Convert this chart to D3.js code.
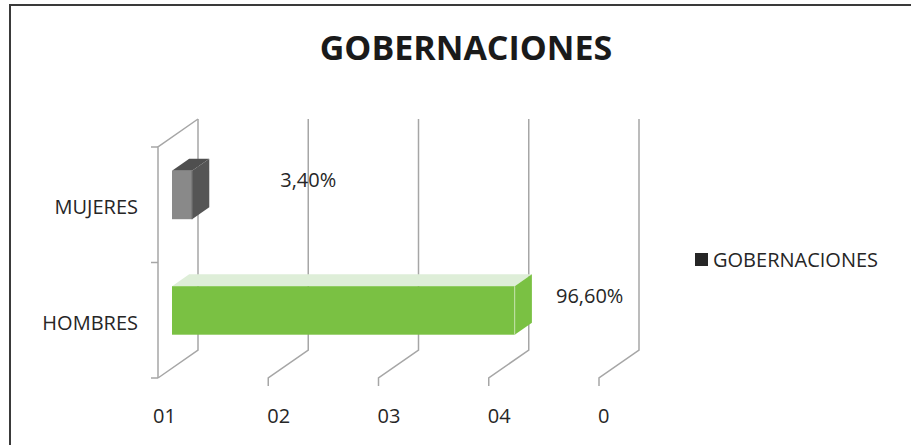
<!DOCTYPE html>
<html>
<head>
<meta charset="utf-8">
<script src="https://cdn.jsdelivr.net/npm/d3@7"></script>
<style>
  html, body { margin: 0; padding: 0; background: #fff; }
  svg { display: block; font-family: 'Open Sans', sans-serif; }
</style>
</head>
<body>
<div id="chart"></div>
<script>
const title = 'GOBERNACIONES'
const seriesName = 'GOBERNACIONES'
const categories = ['MUJERES', 'HOMBRES']
const values = [0.034, 0.966]
const valueLabels = ['3,40%', '96,60%']
const xTickLabels = ['01', '02', '03', '04', '0']

const width = 911
const height = 445
// front-left corner of the plot floor, and depth offset to the back wall
const plot = { left: 158, top: 147, bottom: 378, wallWidth: 441 }
const depth = { dx: 40, dy: -28 }
const barDepth = [0.35, 0.78]
const fontSize = 20

const svg = d3.select('#chart').append('svg').attr('width', width).attr('height', height)

// outer frame (only top and left edges are inside the picture)
svg.append('path')
  .attr('d', `M10,${height} L10,5 L${width},5`)
  .attr('fill', 'none')
  .attr('stroke', '#3a3a3a')
  .attr('stroke-width', 2)

const yScale = d3.scaleBand()
  .domain(categories)
  .range([plot.top, plot.bottom])
  .paddingInner(0.58)
  .paddingOuter(0.29)

const gridScale = d3.scalePoint()
  .domain(xTickLabels)
  .range([plot.left, plot.left + plot.wallWidth])

const xScale = d3.scaleLinear()
  .domain([-0.024, 1.25])
  .range([plot.left, plot.left + plot.wallWidth])

// project a front-plane point back into depth z (0 = front, 1 = back wall)
const proj = (x, y, z) => [x + z * depth.dx, y + z * depth.dy]
const line = d3.line()

const gridColor = '#a6a6a6'
const axes = svg.append('g').attr('fill', 'none').attr('stroke', gridColor).attr('stroke-width', 1.5)

// left wall
axes.append('path').attr('d', line([
  proj(plot.left, plot.bottom, 0), proj(plot.left, plot.top, 0), proj(plot.left, plot.top, 1)
]))
d3.range(categories.length + 1).forEach((i) => {
  const y = plot.top + i * yScale.step()
  axes.append('path').attr('d', line([[plot.left - 7, y], [plot.left, y]]))
})

// back wall gridlines + floor edges
xTickLabels.forEach((t, i) => {
  const gx = gridScale(t)
  axes.append('path').attr('d', line([
    proj(gx, plot.top, 1), proj(gx, plot.bottom, 1), proj(gx, plot.bottom, 0)
  ].concat(i === 0 ? [] : [[gx, plot.bottom + 8]])))
})

// tick labels
svg.append('g')
  .selectAll('text')
  .data(xTickLabels)
  .join('text')
  .attr('x', (d, i) => gridScale(d) + (i === 0 ? -5 : -1))
  .attr('y', 423)
  .attr('font-size', fontSize)
  .attr('fill', '#262626')
  .text((d) => d)

svg.append('g')
  .selectAll('text')
  .data(categories)
  .join('text')
  .attr('x', 138)
  .attr('y', (d) => yScale(d) + yScale.bandwidth() / 2 + 2)
  .attr('text-anchor', 'end')
  .attr('dominant-baseline', 'central')
  .attr('font-size', fontSize)
  .attr('fill', '#262626')
  .text((d) => d)

// 3d bars
const barColors = [
  { front: '#898989', top: '#4f4f4f', side: '#555555', edge: '#6a6a6a' },
  { front: '#7ac143', top: '#deeed8', side: '#7ac143', edge: '#c4e2ac' }
]
const bars = svg.append('g')
categories.forEach((c, i) => {
  const x0 = xScale(xScale.domain()[0])
  const x1 = xScale(values[i])
  const y0 = yScale(c)
  const y1 = y0 + yScale.bandwidth()
  const [z0, z1] = barDepth
  const col = barColors[i]
  const g = bars.append('g')
  g.append('path')
    .attr('d', line([proj(x0, y0, z0), proj(x1, y0, z0), proj(x1, y0, z1), proj(x0, y0, z1)]) + 'Z')
    .attr('fill', col.top)
  g.append('path')
    .attr('d', line([proj(x1, y0, z0), proj(x1, y0, z1), proj(x1, y1, z1), proj(x1, y1, z0)]) + 'Z')
    .attr('fill', col.side)
  const f0 = proj(x0, y0, z0)
  const f1 = proj(x1, y1, z0)
  g.append('rect')
    .attr('x', f0[0]).attr('y', f0[1])
    .attr('width', f1[0] - f0[0]).attr('height', f1[1] - f0[1])
    .attr('fill', col.front)
  g.append('path')
    .attr('d', line([proj(x1, y0, z0), proj(x1, y1, z0)]))
    .attr('stroke', col.edge).attr('stroke-width', 1)
})

// value labels: right of the bar end, but not left of the first inner gridline
svg.append('g')
  .selectAll('text')
  .data(categories)
  .join('text')
  .attr('x', (d, i) => Math.max(proj(xScale(values[i]), 0, barDepth[0])[0] + 75, gridScale(xTickLabels[1]) + depth.dx))
  .attr('y', (d) => yScale(d) + yScale.bandwidth() / 2 - 25)
  .attr('text-anchor', 'middle')
  .attr('dominant-baseline', 'central')
  .attr('font-size', fontSize)
  .attr('fill', '#262626')
  .text((d, i) => valueLabels[i])

// title
svg.append('text')
  .attr('x', 466)
  .attr('y', 47)
  .attr('text-anchor', 'middle')
  .attr('dominant-baseline', 'central')
  .attr('font-size', 34)
  .attr('font-weight', 'bold')
  .attr('fill', '#1a1a1a')
  .text(title)

// legend
const legend = svg.append('g').attr('transform', 'translate(695,253)')
legend.append('rect').attr('width', 13).attr('height', 13).attr('fill', '#262626')
legend.append('text')
  .attr('x', 18)
  .attr('y', 6.5)
  .attr('dominant-baseline', 'central')
  .attr('font-size', fontSize)
  .attr('fill', '#262626')
  .text(seriesName)
</script>
</body>
</html>
